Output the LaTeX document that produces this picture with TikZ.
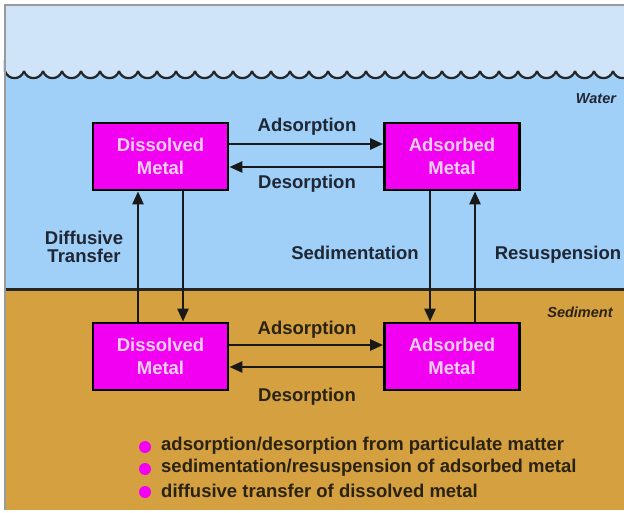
\documentclass[tikz,border=0pt]{standalone}
\usepackage{fontspec}
\setmainfont{Liberation Sans}
\usetikzlibrary{arrows.meta}
\definecolor{sky}{HTML}{CFE4F9}
\definecolor{water}{HTML}{A0CFF8}
\definecolor{sed}{HTML}{D4A040}
\definecolor{mag}{HTML}{F200F2}
\definecolor{boxtxt}{HTML}{F3CFF3}
\definecolor{wlabel}{HTML}{1F2735}
\definecolor{slabel}{HTML}{2A2314}
\definecolor{framegray}{HTML}{9A9A9A}
\begin{document}
\begin{tikzpicture}[x=1pt,y=-1pt,
  metalbox/.style={draw=black, line width=2.8pt, fill=mag, minimum width=135pt, minimum height=67pt,
    inner sep=0pt, text=boxtxt, font=\bfseries\fontsize{18.5}{23}\selectfont, align=center},
  flow/.style={line width=2.6pt, draw=black!90, -{Triangle[length=13pt,width=11pt]}},
  lbl/.style={font=\bfseries\fontsize{18.5}{17.5}\selectfont, text=wlabel, align=center, inner sep=0pt},
  slbl/.style={lbl, text=slabel},
  zone/.style={font=\bfseries\itshape\fontsize{14.5}{16}\selectfont, inner sep=0pt},
  legend/.style={font=\bfseries\fontsize{18.5}{20}\selectfont, text=slabel, anchor=west, inner sep=0pt},
  wave/.style={line width=2.2pt, draw=black!85, fill=sky}]
\useasboundingbox (0,0) rectangle (624,513);
\fill[white] (0,0) rectangle (624,513);
% zones
\fill[sky] (5,5) rectangle (624,71);
\fill[water] (5,71) rectangle (624,289);
\fill[sed] (5,289) rectangle (624,510);
\foreach \i in {0,...,32} {
  \draw[wave] (5+19*\i,71) .. controls (8+19*\i,80.5) and (21+19*\i,80.5) .. (24+19*\i,71);
}
\fill[sky] (3,60) rectangle (5.8,72);
\draw[line width=3pt, black!85] (5,289) -- (624,289);
\draw[framegray, line width=1.2pt] (5,510) -- (5,5) -- (624,5);
% boxes
\node[metalbox] (tl) at (160.5,156.5) {Dissolved\\Metal};
\node[metalbox] (tr) at (452,156.5) {Adsorbed\\Metal};
\node[metalbox] (bl) at (160.5,356.5) {Dissolved\\Metal};
\node[metalbox] (br) at (452,356.5) {Adsorbed\\Metal};
% horizontal flows
\draw[flow] ([yshift=12.5pt]tl.east) -- ([yshift=12.5pt]tr.west);
\draw[flow] ([yshift=-10.5pt]tr.west) -- ([yshift=-10.5pt]tl.east);
\draw[flow] ([yshift=11.5pt]bl.east) -- ([yshift=11.5pt]br.west);
\draw[flow] ([yshift=-10.5pt]br.west) -- ([yshift=-10.5pt]bl.east);
% vertical flows
\draw[flow] ([xshift=-22.5pt]bl.north) -- ([xshift=-22.5pt]tl.south);
\draw[flow] ([xshift=22.5pt]tl.south) -- ([xshift=22.5pt]bl.north);
\draw[flow] ([xshift=-22pt]tr.south) -- ([xshift=-22pt]br.north);
\draw[flow] ([xshift=23pt]br.north) -- ([xshift=23pt]tr.south);
% labels
\node[lbl] (ads1) at (307,127) {Adsorption};
\node[lbl] (des1) at (307,184) {Desorption};
\node[slbl] (ads2) at (307,330) {Adsorption};
\node[slbl] (des2) at (307,397) {Desorption};
\node[lbl] (diff) at (84,247) {Diffusive\\Transfer};
\node[lbl] (sedi) at (355,253) {Sedimentation};
\node[lbl] (resu) at (558,255) {Resuspension};
\node[zone, text=wlabel] (wat) at (596,99) {Water};
\node[zone, text=slabel] (sedz) at (580,312) {Sediment};
% legend
\fill[mag] (145,447) circle (6pt);
\fill[mag] (145,469) circle (6pt);
\fill[mag] (145,492) circle (6pt);
\node[legend] (l1) at (161,446) {adsorption/desorption from particulate matter};
\node[legend] (l2) at (161,468) {sedimentation/resuspension of adsorbed metal};
\node[legend] (l3) at (161,491) {diffusive transfer of dissolved metal};
\end{tikzpicture}
\end{document}
